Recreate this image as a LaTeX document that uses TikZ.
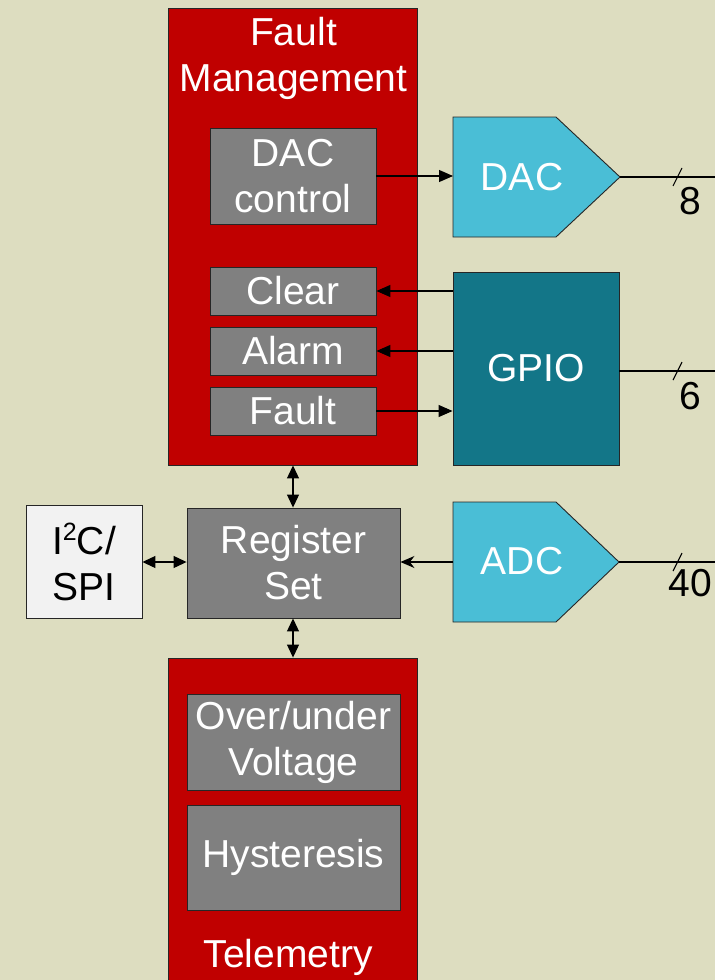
\documentclass[tikz,border=0pt]{standalone}
\usepackage{fontspec}
\setmainfont{Liberation Sans}
\usetikzlibrary{arrows.meta}
\definecolor{bg}{RGB}{221,221,192}
\definecolor{fmred}{RGB}{192,0,0}
\definecolor{gbox}{RGB}{128,128,128}
\definecolor{dacblue}{RGB}{74,190,214}
\definecolor{gpioteal}{RGB}{19,118,136}
\definecolor{lgray}{RGB}{242,242,242}
\tikzset{
  bigfont/.style={font=\fontsize{39}{46}\selectfont},
  box/.style={draw=black!85, line width=0.9pt, inner sep=0pt, align=center, text=white, bigfont},
  redbox/.style={box, fill=fmred},
  graybox/.style={box, fill=gbox},
  pent/.style={draw=black!85, line width=0.9pt, fill=dacblue},
  lbl/.style={inner sep=0pt, align=center, bigfont},
  conn/.style={line width=1.1pt, draw=black},
  arr/.style={conn, -{Triangle[length=14pt,width=12pt]}},
  darr/.style={conn, {Triangle[length=13pt,width=12pt]}-{Triangle[length=13pt,width=12pt]}},
  sarr/.style={conn, -{Stealth[length=14pt,width=12pt]}},
}
\begin{document}
\begin{tikzpicture}[x=1pt,y=-1pt]
\useasboundingbox (0,0) rectangle (715,980);
\clip (0,0) rectangle (715,980);
\fill[bg] (0,0) rectangle (715,980);

% Fault management block
\node[redbox, minimum width=249pt, minimum height=457pt] (fm) at (292.5,236.5) {};
\node[lbl, text=white] (fmtitle) at (293.5,58) {Fault\\Management};
\node[graybox, minimum width=166pt, minimum height=96pt] (dacctl) at (293,176) {DAC\\control};
\node[graybox, minimum width=166pt, minimum height=48pt] (clear) at (293,291) {Clear};
\node[graybox, minimum width=166pt, minimum height=48pt] (alarm) at (293,351) {Alarm};
\node[graybox, minimum width=166pt, minimum height=48pt] (fault) at (293,411) {Fault};

% DAC
\draw[pent] (453,117) -- (556,117) -- (620,177) -- (556,237) -- (453,237) -- cycle;
\coordinate (dacL) at (453,176);
\coordinate (dactip) at (620,177);
\coordinate (dacout) at (715,177);
\node[lbl, text=white] (dac) at (522,177) {DAC};

% GPIO
\node[box, fill=gpioteal, minimum width=166pt, minimum height=193pt] (gpio) at (536,368.5) {GPIO};
\coordinate (gpioout) at (715,371);

% Register set
\node[graybox, minimum width=213pt, minimum height=110pt] (reg) at (293.5,563) {Register\\Set};
\node[box, fill=lgray, text=black, minimum width=116pt, minimum height=113pt] (i2c) at (84,561.5) {I\raisebox{0.36em}{\fontsize{25}{25}\selectfont 2}C/\\SPI};

% ADC
\draw[pent] (453,502) -- (556,502) -- (619,562) -- (556,622) -- (453,622) -- cycle;
\coordinate (adcL) at (453,562);
\coordinate (adctip) at (619,562);
\coordinate (adcout) at (715,562);
\node[lbl, text=white] (adc) at (522,561) {ADC};

% Telemetry
\node[redbox, minimum width=249pt, minimum height=340pt] (tel) at (292.5,828) {};
\node[graybox, minimum width=213pt, minimum height=96pt] (ov) at (293.5,742) {Over/under\\Voltage};
\node[graybox, minimum width=213pt, minimum height=105pt] (hy) at (293.5,857.5) {Hysteresis};
\node[lbl, text=white] (teltitle) at (288,957) {Telemetry};

% Connectors
\draw[arr] (dacctl.east |- dacL) -- (dacL);
\draw[arr] (gpio.west |- clear.east) -- (clear.east);
\draw[arr] (gpio.west |- alarm.east) -- (alarm.east);
\draw[arr] (fault.east) -- (gpio.west |- fault.east);
\draw[darr] (reg.north -| 293,0) -- (fm.south -| 293,0);
\draw[darr] (reg.south -| 293,0) -- (tel.north -| 293,0);
\draw[darr] (i2c.east |- 0,562) -- (reg.west |- 0,562);
\draw[sarr] (adcL) -- (reg.east |- adcL);

% Outputs with bus slashes
\draw[conn] (dactip) -- (dacout);
\draw[conn] (677.5,177) +(-4.5,9) -- +(4.5,-9);
\node[lbl] (n8) at (690.5,201) {8};
\draw[conn] (gpio.east |- gpioout) -- (gpioout);
\draw[conn] (677.5,371) +(-4.5,9) -- +(4.5,-9);
\node[lbl] (n6) at (690,396) {6};
\draw[conn] (adctip) -- (adcout);
\draw[conn] (677.5,562) +(-4.5,9) -- +(4.5,-9);
\node[lbl] (n40) at (690,583) {40};
\end{tikzpicture}
\end{document}
